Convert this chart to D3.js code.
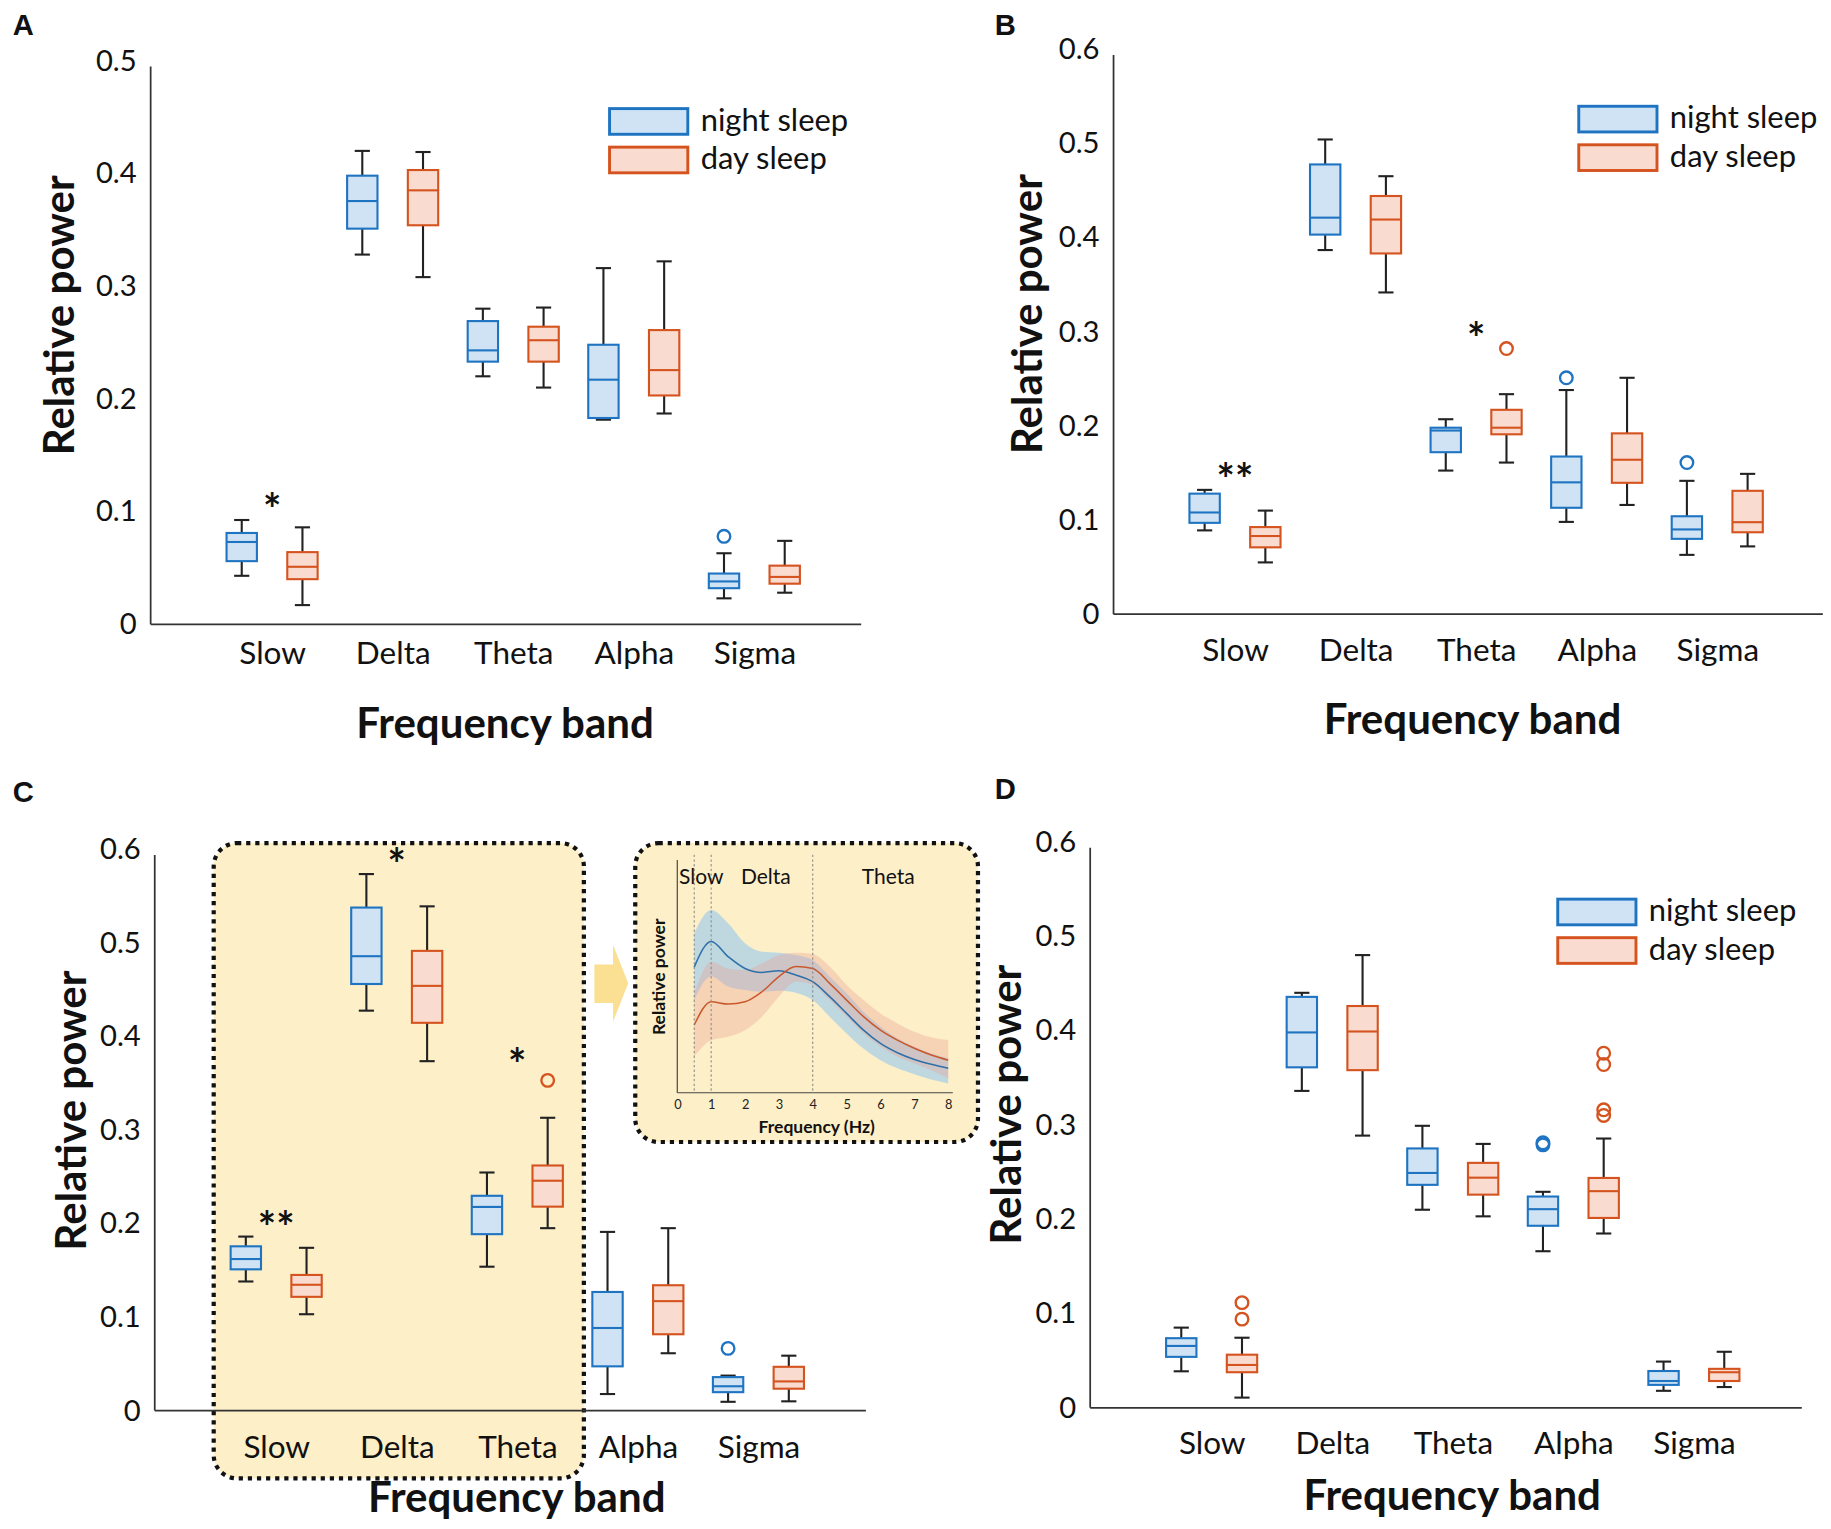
<!DOCTYPE html>
<html>
<head>
<meta charset="utf-8">
<script src="https://d3js.org/d3.v7.min.js"></script>
<style>
  body { margin: 0; background: #fff; }
  svg { display: block; }
</style>
</head>
<body>
<script>
// categories
var bands = ["Slow", "Delta", "Theta", "Alpha", "Sigma"];

// box stats per band: [min, q1, median, q3, max]
var nightA = [[0.043, 0.056, 0.073, 0.081, 0.0925], [0.328, 0.351, 0.3755, 0.398, 0.420], [0.220, 0.233, 0.243, 0.269, 0.280], [0.1815, 0.183, 0.217, 0.248, 0.316], [0.023, 0.032, 0.038, 0.045, 0.063]];
var dayA = [[0.017, 0.040, 0.051, 0.064, 0.086], [0.308, 0.354, 0.385, 0.403, 0.419], [0.210, 0.233, 0.252, 0.264, 0.281], [0.187, 0.203, 0.2255, 0.261, 0.322], [0.028, 0.036, 0.042, 0.052, 0.074]];
var outNightA = [["Sigma", 0.078]];
var outDayA = [];
var starsA = [["Slow", "*", 0.109]];

var nightB = [[0.089, 0.097, 0.108, 0.128, 0.132], [0.3866, 0.403, 0.421, 0.4775, 0.504], [0.1525, 0.172, 0.195, 0.198, 0.207], [0.098, 0.113, 0.140, 0.1674, 0.238], [0.063, 0.080, 0.090, 0.104, 0.1416]];
var dayB = [[0.055, 0.071, 0.083, 0.0925, 0.110], [0.3416, 0.383, 0.419, 0.444, 0.465], [0.161, 0.191, 0.198, 0.217, 0.2336], [0.116, 0.1395, 0.164, 0.192, 0.251], [0.072, 0.087, 0.0977, 0.131, 0.149]];
var outNightB = [["Alpha", 0.251], ["Sigma", 0.161]];
var outDayB = [["Theta", 0.282]];
var starsB = [["Slow", "**", 0.151], ["Theta", "*", 0.301]];

var nightC = [[0.138, 0.151, 0.162, 0.1756, 0.186], [0.4275, 0.456, 0.4857, 0.5377, 0.5735], [0.1538, 0.1886, 0.2177, 0.2296, 0.2545], [0.0177, 0.0473, 0.0883, 0.1268, 0.191], [0.0094, 0.0197, 0.026, 0.0358, 0.0374]];
var dayC = [[0.103, 0.1216, 0.1345, 0.145, 0.174], [0.3735, 0.4145, 0.454, 0.4914, 0.539], [0.195, 0.218, 0.2457, 0.262, 0.313], [0.0613, 0.0816, 0.117, 0.134, 0.195], [0.0099, 0.0234, 0.0312, 0.0468, 0.0587]];
var outNightC = [["Sigma", 0.0665]];
var outDayC = [["Theta", 0.353]];
var starsC = [["Slow", "**", 0.204], ["Delta", "*", 0.592], ["Theta", "*", 0.378]];

var nightD = [[0.0387, 0.054, 0.0656, 0.0738, 0.085], [0.336, 0.361, 0.398, 0.4357, 0.440], [0.210, 0.2364, 0.249, 0.275, 0.299], [0.166, 0.193, 0.2106, 0.224, 0.229], [0.018, 0.0243, 0.0284, 0.039, 0.049]];
var dayD = [[0.0108, 0.0377, 0.0454, 0.0563, 0.0743], [0.2886, 0.358, 0.399, 0.426, 0.480], [0.203, 0.226, 0.244, 0.2597, 0.2798], [0.1848, 0.2013, 0.2297, 0.2437, 0.2855], [0.022, 0.0284, 0.0377, 0.0413, 0.0594]];
var outNightD = [["Alpha", 0.281], ["Alpha", 0.2788]];
var outDayD = [["Slow", 0.1115], ["Slow", 0.094], ["Alpha", 0.376], ["Alpha", 0.364], ["Alpha", 0.316], ["Alpha", 0.310]];
var starsD = [];

var ticks05 = [0, 0.1, 0.2, 0.3, 0.4, 0.5];
var ticks06 = [0, 0.1, 0.2, 0.3, 0.4, 0.5, 0.6];
var seriesNames = ["night sleep", "day sleep"];

// inset spectrum (panel C), relative units
var freqs = [0.5, 1, 1.5, 2, 2.5, 3, 3.5, 4, 4.5, 5, 5.5, 6, 6.5, 7, 7.5, 8];
var nightMean = [0.54, 0.65, 0.585, 0.534, 0.517, 0.524, 0.506, 0.477, 0.413, 0.341, 0.269, 0.212, 0.172, 0.143, 0.122, 0.105];
var nightHi = [0.685, 0.785, 0.728, 0.642, 0.606, 0.602, 0.592, 0.570, 0.499, 0.427, 0.348, 0.284, 0.234, 0.198, 0.169, 0.148];
var nightLo = [0.398, 0.499, 0.456, 0.441, 0.434, 0.438, 0.430, 0.398, 0.327, 0.255, 0.190, 0.140, 0.105, 0.080, 0.057, 0.040];
var dayMean = [0.291, 0.391, 0.381, 0.391, 0.434, 0.499, 0.542, 0.534, 0.470, 0.398, 0.327, 0.269, 0.226, 0.191, 0.162, 0.140];
var dayHi = [0.427, 0.563, 0.534, 0.527, 0.556, 0.592, 0.602, 0.596, 0.542, 0.463, 0.398, 0.341, 0.298, 0.262, 0.238, 0.226];
var dayLo = [0.155, 0.226, 0.241, 0.269, 0.327, 0.413, 0.477, 0.463, 0.398, 0.327, 0.255, 0.198, 0.155, 0.126, 0.097, 0.062];
var bandEdges = [0.5, 1, 4];
var bandNames = [["Slow", 0.05], ["Delta", 1.88], ["Theta", 5.45]];
var freqTicks = [0, 1, 2, 3, 4, 5, 6, 7, 8];

var FONT = "Lato, 'Open Sans', sans-serif";
var NIGHT = { stroke: "#1f74c2", fill: "#cfe3f4" };
var DAY = { stroke: "#d5531f", fill: "#f9dccf" };
var YELLOW = "#fdefc8";

var W = 1568, H = 1309.4;
var svg = d3.select("body").append("svg")
  .attr("width", 1831).attr("height", 1529)
  .attr("viewBox", "0 0 " + W + " " + H);

// panel C highlight boxes go underneath everything
function dottedBox(x, y, w, h) {
  svg.append("rect")
    .attr("x", x).attr("y", y).attr("width", w).attr("height", h)
    .attr("rx", 20).attr("ry", 20)
    .attr("fill", YELLOW)
    .attr("stroke", "#111").attr("stroke-width", 3.6)
    .attr("stroke-dasharray", "3.6 4.2");
}
dottedBox(183, 722, 317, 544);
dottedBox(544, 722, 293.5, 256);

// arrow between highlight and inset
svg.append("path")
  .attr("d", "M509,826 L525,826 L525,809 L538,842 L525,875 L525,859 L509,859 Z")
  .attr("fill", "#fbdf92");

function drawPanel(p) {
  var g = svg.append("g");
  var y = d3.scaleLinear().domain([0, p.yMax]).range([p.y0, p.yTop]);
  var x = d3.scalePoint().domain(bands).range([p.ax + 104, p.ax + 517]);

  var ya = g.append("g")
    .attr("transform", "translate(" + p.ax + ",0)")
    .call(d3.axisLeft(y).tickValues(p.ticks).tickSize(0).tickPadding(12)
      .tickFormat(function (d) { return d === 0 ? "0" : d3.format(".1f")(d); }));
  ya.select(".domain").remove();
  ya.selectAll("text").attr("font-family", FONT).attr("font-size", 25).attr("fill", "#111");

  g.append("line")
    .attr("x1", p.ax).attr("x2", p.ax)
    .attr("y1", y(0)).attr("y2", y(p.yMax) + 5)
    .attr("stroke", "#333").attr("stroke-width", 1.5);
  g.append("line")
    .attr("x1", p.ax).attr("x2", p.axRight)
    .attr("y1", y(0)).attr("y2", y(0))
    .attr("stroke", "#333").attr("stroke-width", 1.5);

  var xa = g.append("g")
    .attr("transform", "translate(0," + y(0) + ")")
    .call(d3.axisBottom(x).tickSize(0));
  xa.select(".domain").remove();
  xa.selectAll("text")
    .attr("y", p.catY - y(0)).attr("dy", 0)
    .attr("font-family", FONT).attr("font-size", 27).attr("fill", "#111");

  function series(stats, off, col, outs) {
    var sg = g.append("g");
    var items = stats.map(function (s, i) { return { band: bands[i], s: s }; });
    var hw = 13, cw = 6.5;
    sg.selectAll("line.wh").data(items).join("line")
      .attr("x1", function (d) { return x(d.band) + off; })
      .attr("x2", function (d) { return x(d.band) + off; })
      .attr("y1", function (d) { return y(d.s[0]); })
      .attr("y2", function (d) { return y(d.s[4]); })
      .attr("stroke", "#222").attr("stroke-width", 1.8);
    [0, 4].forEach(function (k) {
      sg.selectAll("line.cap" + k).data(items).join("line")
        .attr("x1", function (d) { return x(d.band) + off - cw; })
        .attr("x2", function (d) { return x(d.band) + off + cw; })
        .attr("y1", function (d) { return y(d.s[k]); })
        .attr("y2", function (d) { return y(d.s[k]); })
        .attr("stroke", "#222").attr("stroke-width", 1.8);
    });
    sg.selectAll("rect").data(items).join("rect")
      .attr("x", function (d) { return x(d.band) + off - hw; })
      .attr("y", function (d) { return y(d.s[3]); })
      .attr("width", hw * 2)
      .attr("height", function (d) { return y(d.s[1]) - y(d.s[3]); })
      .attr("fill", col.fill).attr("stroke", col.stroke).attr("stroke-width", 1.8);
    sg.selectAll("line.med").data(items).join("line")
      .attr("x1", function (d) { return x(d.band) + off - hw; })
      .attr("x2", function (d) { return x(d.band) + off + hw; })
      .attr("y1", function (d) { return y(d.s[2]); })
      .attr("y2", function (d) { return y(d.s[2]); })
      .attr("stroke", col.stroke).attr("stroke-width", 1.8);
    sg.selectAll("circle").data(outs).join("circle")
      .attr("cx", function (d) { return x(d[0]) + off; })
      .attr("cy", function (d) { return y(d[1]); })
      .attr("r", 5.4)
      .attr("fill", "none").attr("stroke", col.stroke).attr("stroke-width", 2);
  }
  series(p.night, -26, NIGHT, p.outNight);
  series(p.day, 26, DAY, p.outDay);

  g.selectAll("text.star").data(p.stars).join("text")
    .attr("class", "star")
    .attr("x", function (d) { return x(d[0]); })
    .attr("y", function (d) { return y(d[2]) + 20; })
    .attr("text-anchor", "middle")
    .attr("font-family", FONT).attr("font-weight", 700).attr("font-size", 37)
    .attr("fill", "#111")
    .text(function (d) { return d[1]; });

  g.append("text")
    .attr("x", p.titleX).attr("y", p.titleY)
    .attr("text-anchor", "middle")
    .attr("font-family", FONT).attr("font-weight", 700).attr("font-size", 36)
    .attr("fill", "#111")
    .text("Frequency band");

  g.append("text")
    .attr("transform", "translate(" + p.ylab[0] + "," + p.ylab[1] + ") rotate(-90)")
    .attr("text-anchor", "middle").attr("dominant-baseline", "central")
    .attr("font-family", FONT).attr("font-weight", 700).attr("font-size", 36)
    .attr("fill", "#111")
    .text("Relative power");

  g.append("text")
    .attr("x", p.letter[1]).attr("y", p.letter[2])
    .attr("text-anchor", "middle").attr("dominant-baseline", "central")
    .attr("font-family", "'Liberation Sans', Arial, sans-serif").attr("font-weight", 700)
    .attr("font-size", 25).attr("fill", "#111")
    .text(p.letter[0]);

  if (p.legend) {
    var lg = g.append("g").attr("transform", "translate(" + p.legend[0] + "," + p.legend[1] + ")");
    [NIGHT, DAY].forEach(function (c, i) {
      lg.append("rect")
        .attr("x", 0).attr("y", i * 33).attr("width", 67).attr("height", 22)
        .attr("fill", c.fill).attr("stroke", c.stroke).attr("stroke-width", 2.5);
      lg.append("text")
        .attr("x", 78).attr("y", i * 33 + 19)
        .attr("font-family", FONT).attr("font-size", 26.5).attr("fill", "#111")
        .text(seriesNames[i]);
    });
  }
}

drawPanel({ ax: 129, axRight: 737.5, y0: 534.6, yTop: 52, yMax: 0.5, ticks: ticks05,
  night: nightA, day: dayA, outNight: outNightA, outDay: outDayA, stars: starsA,
  catY: 569, titleX: 432.5, titleY: 632, ylab: [50, 270], letter: ["A", 20, 21], legend: [522, 93] });

drawPanel({ ax: 953.6, axRight: 1561, y0: 526, yTop: 42, yMax: 0.6, ticks: ticks06,
  night: nightB, day: dayB, outNight: outNightB, outDay: outDayB, stars: starsB,
  catY: 566, titleX: 1261, titleY: 629, ylab: [878.6, 269], letter: ["B", 861, 21], legend: [1352, 91] });

drawPanel({ ax: 132.5, axRight: 741.5, y0: 1208, yTop: 727.3, yMax: 0.6, ticks: ticks06,
  night: nightC, day: dayC, outNight: outNightC, outDay: outDayC, stars: starsC,
  catY: 1249, titleX: 442.5, titleY: 1295, ylab: [60, 951], letter: ["C", 20, 678], legend: null });

drawPanel({ ax: 933.6, axRight: 1543, y0: 1205.6, yTop: 721, yMax: 0.6, ticks: ticks06,
  night: nightD, day: dayD, outNight: outNightD, outDay: outDayD, stars: starsD,
  catY: 1245, titleX: 1243.6, titleY: 1293, ylab: [861, 946], letter: ["D", 861, 676], legend: [1334, 770] });

// inset spectrum
(function () {
  var g = svg.append("g");
  var fx = d3.scaleLinear().domain([0, 8]).range([580, 812]);
  var fy = d3.scaleLinear().domain([0, 1]).range([935.8, 736.5]);
  var curve = d3.curveMonotoneX;

  function band(lo, hi, color) {
    var area = d3.area()
      .x(function (d, i) { return fx(freqs[i]); })
      .y0(function (d, i) { return fy(lo[i]); })
      .y1(function (d, i) { return fy(hi[i]); })
      .curve(curve);
    g.append("path").datum(freqs).attr("d", area).attr("fill", color);
  }
  function meanLine(vals, color) {
    var line = d3.line()
      .x(function (d, i) { return fx(freqs[i]); })
      .y(function (d, i) { return fy(vals[i]); })
      .curve(curve);
    g.append("path").datum(freqs).attr("d", line)
      .attr("fill", "none").attr("stroke", color).attr("stroke-width", 1.3);
  }
  band(nightLo, nightHi, "rgba(150,200,240,0.6)");
  band(dayLo, dayHi, "rgba(235,160,150,0.35)");
  meanLine(nightMean, "#2f6fa7");
  meanLine(dayMean, "#c9592b");

  g.selectAll("line.edge").data(bandEdges).join("line")
    .attr("x1", function (d) { return fx(d); }).attr("x2", function (d) { return fx(d); })
    .attr("y1", 732).attr("y2", fy(0))
    .attr("stroke", "#888").attr("stroke-width", 0.9).attr("stroke-dasharray", "2 2");

  g.append("line").attr("x1", fx(0)).attr("x2", fx(0)).attr("y1", fy(1)).attr("y2", fy(0))
    .attr("stroke", "#444").attr("stroke-width", 1);
  g.append("line").attr("x1", fx(0)).attr("x2", 816).attr("y1", fy(0)).attr("y2", fy(0))
    .attr("stroke", "#444").attr("stroke-width", 1);

  var xa = g.append("g").attr("transform", "translate(0," + fy(0) + ")")
    .call(d3.axisBottom(fx).tickValues(freqTicks).tickSize(0).tickPadding(6).tickFormat(d3.format("d")));
  xa.select(".domain").remove();
  xa.selectAll("text").attr("font-family", FONT).attr("font-size", 11).attr("fill", "#222");

  g.selectAll("text.bn").data(bandNames).join("text")
    .attr("x", function (d) { return fx(d[1]); }).attr("y", 757)
    .attr("font-family", FONT).attr("font-size", 18).attr("fill", "#111")
    .text(function (d) { return d[0]; });

  g.append("text").attr("x", 699.4).attr("y", 970)
    .attr("text-anchor", "middle")
    .attr("font-family", FONT).attr("font-weight", 700).attr("font-size", 15).attr("fill", "#111")
    .text("Frequency (Hz)");
  g.append("text")
    .attr("transform", "translate(563.8,836.5) rotate(-90)")
    .attr("text-anchor", "middle").attr("dominant-baseline", "central")
    .attr("font-family", FONT).attr("font-weight", 700).attr("font-size", 15).attr("fill", "#111")
    .text("Relative power");
})();
</script>
</body>
</html>
